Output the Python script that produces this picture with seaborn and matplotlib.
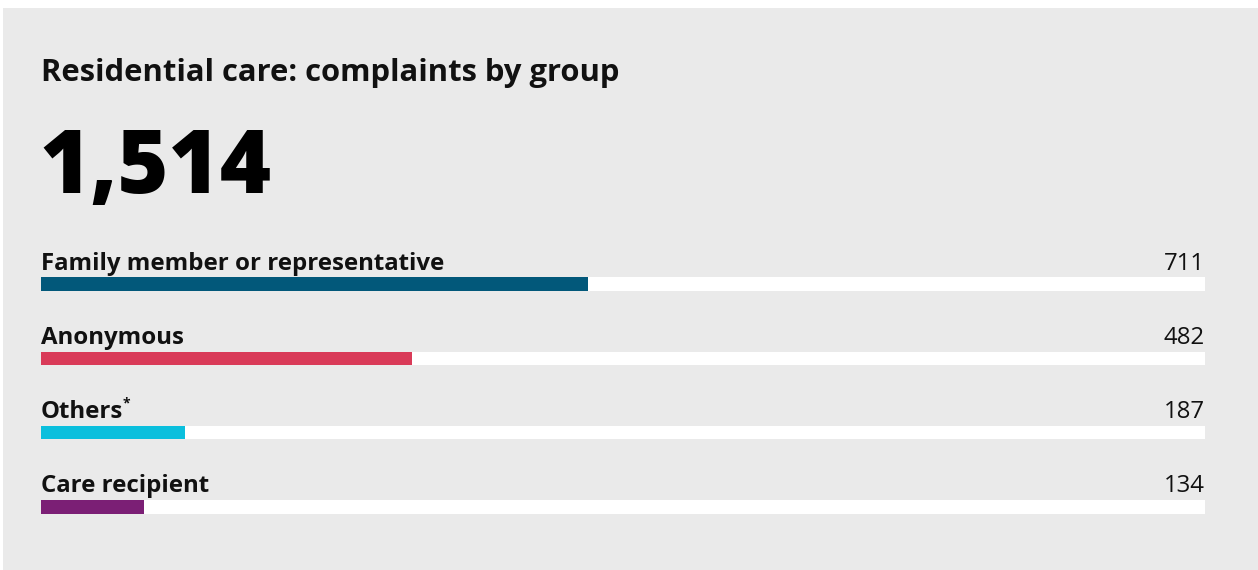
import matplotlib
matplotlib.use("Agg")
import matplotlib.pyplot as plt
import matplotlib.patches as mpatches
import seaborn as sns
import pandas as pd

# Complaint counts by group
groups = ["Family member or representative", "Anonymous", "Others", "Care recipient"]
counts = [711, 482, 187, 134]
colors = ["#02587A", "#D93A58", "#0ABFDD", "#7B1F75"]
footnote_marks = ["", "", "*", ""]
title = "Residential care: complaints by group"

total = sum(counts)

sns.set_theme(style="white")
plt.rcParams["font.family"] = ["Open Sans", "DejaVu Sans"]

W, H = 1258, 570
fig = plt.figure(figsize=(W / 100, H / 100), dpi=100, facecolor="white")

# grey card behind everything
fig.patches.append(mpatches.Rectangle((3 / W, 0), 1, 1 - 8 / H, transform=fig.transFigure,
                                      facecolor="#EAEAEA", edgecolor="none", zorder=-5))

fig.text(41 / W, 1 - 81 / H, title, fontsize=22.3, fontweight="bold",
         color="#111111", ha="left", va="baseline")
fig.text(39 / W, 1 - 193 / H, f"{total:,}", fontsize=63, fontweight="heavy",
         color="#000000", ha="left", va="baseline")

# bar area: row pitch 74.2 px, first row centred at y=284
pitch = 74.2
top = 284.2 - pitch / 2
bottom = top + pitch * len(groups)
ax = fig.add_axes([41 / W, 1 - bottom / H, (1205 - 41) / W, (bottom - top) / H])
ax.set_facecolor("none")
ax.set_zorder(2)

df = pd.DataFrame({"group": groups, "count": counts, "track": [total] * len(groups)})
bar_w = 13.5 / pitch

sns.barplot(data=df, y="group", x="track", orient="h", color="white",
            width=bar_w, ax=ax, saturation=1)
sns.barplot(data=df, y="group", x="count", hue="group", palette=colors, orient="h",
            width=bar_w, ax=ax, saturation=1, legend=False, dodge=False)

ax.set_xlim(0, total)
ax.set_ylim(len(groups) - 0.5, -0.5)
ax.axis("off")
for p in ax.patches:
    p.set_linewidth(0)

fig.canvas.draw()
renderer = fig.canvas.get_renderer()
off = 14.5 / pitch
for i, (g, c, m) in enumerate(zip(groups, counts, footnote_marks)):
    t = ax.text(0, i - off, g, fontsize=17.3, fontweight="bold", color="#111111",
                ha="left", va="baseline")
    ax.text(total, i - off, f"{c:,}", fontsize=17.3, color="#111111",
            ha="right", va="baseline")
    if m:
        bb = t.get_window_extent(renderer)
        x_end = ax.transData.inverted().transform((bb.x1, bb.y0))[0]
        ax.annotate(m, xy=(x_end, i - off), xytext=(-0.5, 8), textcoords="offset points",
                    fontsize=10, fontweight="bold", color="#111111",
                    ha="left", va="baseline")

fig.savefig("out.png", dpi=100, facecolor="white")
